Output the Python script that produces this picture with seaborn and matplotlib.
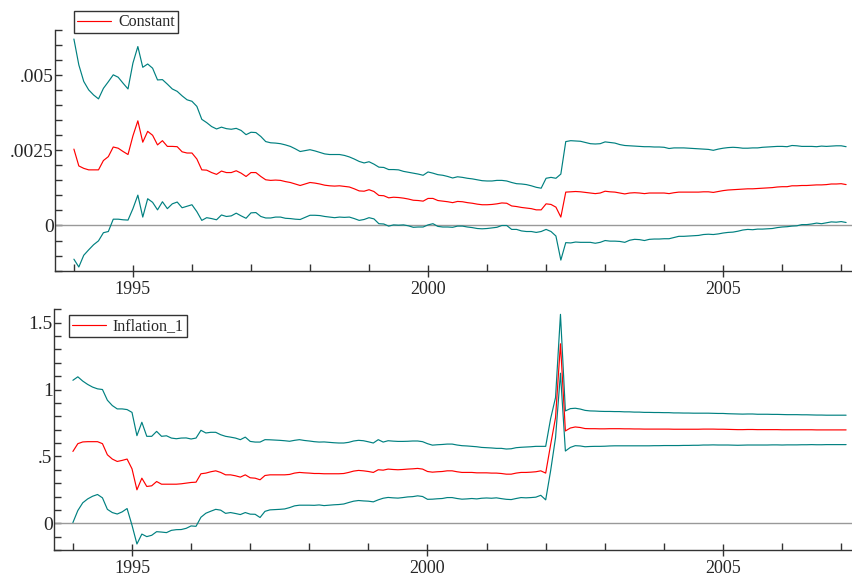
import matplotlib
matplotlib.use("Agg")

import matplotlib.pyplot as plt
import numpy as np
import seaborn as sns
from matplotlib.ticker import FixedLocator, FuncFormatter

sns.set_theme(style="ticks")
plt.rcParams["font.family"] = ["Liberation Serif", "DejaVu Serif"]

# monthly sample 1994(1) - 2007(2)
n_obs = 158
years = 1994 + np.arange(n_obs) / 12

# recursive coefficient estimates and +/- 2 s.e. half-widths
const_est = [
    0.00254, 0.00198, 0.00190, 0.00185, 0.00185, 0.00185, 0.00216, 0.00229, 0.00261, 0.00257,
    0.00246, 0.00236, 0.00298, 0.00348, 0.00277, 0.00313, 0.00300, 0.00268, 0.00282, 0.00263,
    0.00263, 0.00262, 0.00245, 0.00241, 0.00241, 0.00221, 0.00185, 0.00184, 0.00176, 0.00170,
    0.00181, 0.00176, 0.00176, 0.00182, 0.00174, 0.00163, 0.00176,
    0.00176, 0.00163, 0.00152, 0.00150, 0.00151, 0.00150, 0.00146, 0.00143, 0.00138, 0.00133,
    0.00138, 0.00143, 0.00141, 0.00138, 0.00134, 0.00132, 0.00131, 0.00132, 0.00130, 0.00128,
    0.00122, 0.00115, 0.00114, 0.00119, 0.00113, 0.00100, 0.00099, 0.00092, 0.00094, 0.00093,
    0.00091, 0.00088, 0.00084, 0.00083, 0.00081, 0.00090, 0.00090, 0.00083, 0.00081, 0.00079,
    0.00076, 0.00080, 0.00079, 0.00076, 0.00074, 0.00071, 0.00069, 0.00069, 0.00070, 0.00072,
    0.00075, 0.00074, 0.00065, 0.00063, 0.00060, 0.00058, 0.00056, 0.00052, 0.00052, 0.00072,
    0.00070, 0.00061, 0.00028, 0.00111, 0.00112, 0.00113, 0.00112, 0.00110, 0.00108, 0.00106,
    0.00108, 0.00114, 0.00112, 0.00111, 0.00108, 0.00105,
    0.00108, 0.00109, 0.00108, 0.00106, 0.00108, 0.00108, 0.00108, 0.00108, 0.00106, 0.00109,
    0.00111, 0.00111, 0.00111, 0.00111, 0.00111, 0.00112, 0.00112, 0.00110, 0.00113, 0.00116,
    0.00118, 0.00119, 0.00120, 0.00121, 0.00122, 0.00122, 0.00123, 0.00124, 0.00125, 0.00126,
    0.00128, 0.00129, 0.00129, 0.00132, 0.00132, 0.00133, 0.00133, 0.00134, 0.00135, 0.00135,
    0.00136, 0.00138, 0.00138, 0.00139, 0.00136,
]
const_2se = [
    0.00366, 0.00336, 0.00289, 0.00266, 0.00249, 0.00236, 0.00240, 0.00249, 0.00240, 0.00236,
    0.00227, 0.00218, 0.00242, 0.00247, 0.00249, 0.00224, 0.00223, 0.00216, 0.00203, 0.00207,
    0.00191, 0.00184, 0.00186, 0.00177, 0.00172, 0.00175, 0.00168, 0.00158, 0.00153, 0.00151,
    0.00146, 0.00146, 0.00144, 0.00141, 0.00142, 0.00139, 0.00134,
    0.00133, 0.00133, 0.00127, 0.00125, 0.00123, 0.00122, 0.00122, 0.00120, 0.00117, 0.00113,
    0.00111, 0.00109, 0.00107, 0.00105, 0.00104, 0.00104, 0.00105, 0.00104, 0.00103, 0.00100,
    0.00099, 0.00098, 0.00094, 0.00093, 0.00091, 0.00094, 0.00094, 0.00094, 0.00092, 0.00092,
    0.00089, 0.00089, 0.00090, 0.00088, 0.00086, 0.00088, 0.00084, 0.00086, 0.00086, 0.00084,
    0.00082, 0.00082, 0.00081, 0.00081, 0.00081, 0.00081, 0.00080, 0.00079, 0.00078, 0.00078,
    0.00075, 0.00074, 0.00078, 0.00076, 0.00078, 0.00078, 0.00076, 0.00075, 0.00072, 0.00085,
    0.00090, 0.00096, 0.00143, 0.00168, 0.00170, 0.00168, 0.00168, 0.00166, 0.00164, 0.00165,
    0.00164, 0.00164, 0.00164, 0.00163, 0.00161, 0.00161,
    0.00157, 0.00155, 0.00155, 0.00156, 0.00154, 0.00153, 0.00153, 0.00152, 0.00150, 0.00149,
    0.00147, 0.00147, 0.00146, 0.00145, 0.00144, 0.00142, 0.00141, 0.00140, 0.00141, 0.00141,
    0.00141, 0.00141, 0.00139, 0.00136, 0.00135, 0.00136, 0.00135, 0.00136, 0.00136, 0.00136,
    0.00135, 0.00134, 0.00133, 0.00134, 0.00133, 0.00130, 0.00130, 0.00129, 0.00127, 0.00129,
    0.00127, 0.00126, 0.00127, 0.00126, 0.00126,
]

infl_est = [
    0.537, 0.595, 0.608, 0.610, 0.610, 0.610, 0.595, 0.512, 0.480, 0.462,
    0.470, 0.480, 0.407, 0.250, 0.337, 0.275, 0.280, 0.312, 0.292, 0.292,
    0.292, 0.292, 0.295, 0.300, 0.305, 0.307, 0.370, 0.375, 0.385, 0.392,
    0.380, 0.362, 0.362, 0.355, 0.345, 0.362, 0.340,
    0.337, 0.325, 0.357, 0.362, 0.362, 0.362, 0.362, 0.365, 0.375, 0.380,
    0.377, 0.375, 0.372, 0.372, 0.370, 0.370, 0.370, 0.370, 0.372, 0.380,
    0.390, 0.395, 0.392, 0.387, 0.380, 0.400, 0.397, 0.405, 0.402, 0.400,
    0.402, 0.405, 0.407, 0.410, 0.405, 0.387, 0.382, 0.385, 0.387, 0.392,
    0.392, 0.385, 0.380, 0.380, 0.380, 0.377, 0.377, 0.377, 0.375, 0.375,
    0.372, 0.367, 0.367, 0.375, 0.380, 0.380, 0.382, 0.385, 0.392, 0.375,
    0.587, 0.790, 1.342,
    0.690, 0.712, 0.720, 0.716, 0.708, 0.707, 0.707, 0.706, 0.706, 0.707,
    0.707, 0.707, 0.706, 0.706, 0.705, 0.705, 0.704, 0.704, 0.704, 0.704,
    0.704, 0.704, 0.703, 0.703, 0.703, 0.703, 0.703, 0.703, 0.704, 0.704,
    0.704, 0.703, 0.703, 0.702, 0.701, 0.700, 0.700, 0.701, 0.701, 0.700,
    0.700, 0.700, 0.700, 0.700, 0.699, 0.699, 0.699, 0.699, 0.699, 0.699,
    0.699, 0.698, 0.698, 0.698, 0.698, 0.698, 0.698, 0.698,
]
infl_2se = [
    0.532, 0.500, 0.455, 0.428, 0.408, 0.395, 0.405, 0.408, 0.400, 0.393,
    0.385, 0.370, 0.422, 0.405, 0.418, 0.375, 0.370, 0.375, 0.358, 0.362,
    0.345, 0.340, 0.342, 0.338, 0.325, 0.330, 0.325, 0.300, 0.295, 0.288,
    0.282, 0.288, 0.282, 0.282, 0.280, 0.282, 0.272,
    0.270, 0.282, 0.268, 0.262, 0.260, 0.258, 0.255, 0.248, 0.245, 0.245,
    0.242, 0.240, 0.238, 0.235, 0.238, 0.235, 0.232, 0.230, 0.228, 0.225,
    0.225, 0.225, 0.225, 0.222, 0.220, 0.225, 0.210, 0.212, 0.212, 0.212,
    0.210, 0.208, 0.208, 0.205, 0.205, 0.208, 0.202, 0.202, 0.202, 0.200,
    0.200, 0.200, 0.200, 0.198, 0.195, 0.195, 0.190, 0.188, 0.188, 0.185,
    0.188, 0.188, 0.190, 0.190, 0.188, 0.190, 0.190, 0.190, 0.183, 0.200,
    0.195, 0.150, 0.220,
    0.150, 0.145, 0.140, 0.138, 0.136, 0.133, 0.132, 0.131, 0.130, 0.129,
    0.128, 0.128, 0.127, 0.127, 0.126, 0.126, 0.125, 0.125, 0.124, 0.124,
    0.123, 0.123, 0.122, 0.122, 0.121, 0.121, 0.120, 0.120, 0.119, 0.119,
    0.118, 0.118, 0.118, 0.117, 0.117, 0.117, 0.116, 0.116, 0.116, 0.115,
    0.115, 0.115, 0.114, 0.114, 0.114, 0.113, 0.113, 0.113, 0.112, 0.112,
    0.111, 0.111, 0.111, 0.110, 0.110, 0.110, 0.110, 0.110,
]

RED = "#ff0000"
TEAL = "#008080"


def _fmt(v, _):
    if abs(v) < 1e-12:
        return "0"
    s = f"{v:g}"
    return s.replace("0.", ".", 1) if s.startswith("0.") else s


def draw_panel(ax, est, se2, label, ylim, major, minor, legend_anchor):
    est = np.asarray(est)
    se2 = np.asarray(se2)
    ax.axhline(0, color="#999999", linewidth=1.0, zorder=1)
    sns.lineplot(x=years, y=est + se2, ax=ax, color=TEAL, linewidth=0.85, legend=False)
    sns.lineplot(x=years, y=est - se2, ax=ax, color=TEAL, linewidth=0.85, legend=False)
    sns.lineplot(x=years, y=est, ax=ax, color=RED, linewidth=0.85, label=label)

    ax.set_xlim(1993.68, 2007.2)
    ax.set_ylim(*ylim)
    ax.set_xlabel("")
    ax.set_ylabel("")

    ax.xaxis.set_major_locator(FixedLocator([1995, 2000, 2005]))
    ax.xaxis.set_minor_locator(FixedLocator(list(range(1994, 2008))))
    ax.xaxis.set_major_formatter(FuncFormatter(lambda v, _: f"{int(v)}"))
    ax.yaxis.set_major_locator(FixedLocator(major))
    ax.yaxis.set_minor_locator(FixedLocator(minor))
    ax.yaxis.set_major_formatter(FuncFormatter(_fmt))

    ax.tick_params(axis="x", which="major", direction="inout", length=9, width=1,
                   labelsize=13, pad=3, color="#333333")
    ax.tick_params(axis="x", which="minor", direction="in", length=5, width=1, color="#333333")
    ax.tick_params(axis="y", which="major", direction="in", length=5, width=1,
                   labelsize=14, pad=1, color="#333333")
    ax.tick_params(axis="y", which="minor", direction="in", length=5, width=1, color="#333333")

    for side in ("top", "right"):
        ax.spines[side].set_visible(False)
    for side in ("left", "bottom"):
        ax.spines[side].set_color("#333333")
        ax.spines[side].set_linewidth(1.0)

    leg = ax.legend(loc="upper left", bbox_to_anchor=legend_anchor,
                    bbox_transform=ax.figure.transFigure, frameon=True, fancybox=False,
                    edgecolor="#333333", framealpha=1, fontsize=11.5, borderpad=0.2,
                    handlelength=2.1, handletextpad=0.45, borderaxespad=0)
    leg.get_frame().set_linewidth(1.0)


fig = plt.figure(figsize=(8.53, 5.77), dpi=100)
ax_top = fig.add_axes([0.0645, 0.531, 0.9355, 0.417])
ax_bot = fig.add_axes([0.0633, 0.0468, 0.9367, 0.4172])

draw_panel(
    ax_top, const_est, const_2se, "Constant",
    ylim=(-0.0015, 0.0065),
    major=[0, 0.0025, 0.005],
    minor=[-0.0015, -0.001, -0.0005, 0.0005, 0.001, 0.0015, 0.002, 0.003, 0.0035,
           0.004, 0.0045, 0.0055, 0.006, 0.0065],
    legend_anchor=(0.0868, 0.981),
)
draw_panel(
    ax_bot, infl_est, infl_2se, "Inflation_1",
    ylim=(-0.2, 1.6),
    major=[0, 0.5, 1, 1.5],
    minor=[-0.2, -0.1, 0.1, 0.2, 0.3, 0.4, 0.6, 0.7, 0.8, 0.9, 1.1, 1.2, 1.3, 1.4, 1.6],
    legend_anchor=(0.0809, 0.454),
)

fig.savefig("out.png", dpi=100)
plt.close(fig)
